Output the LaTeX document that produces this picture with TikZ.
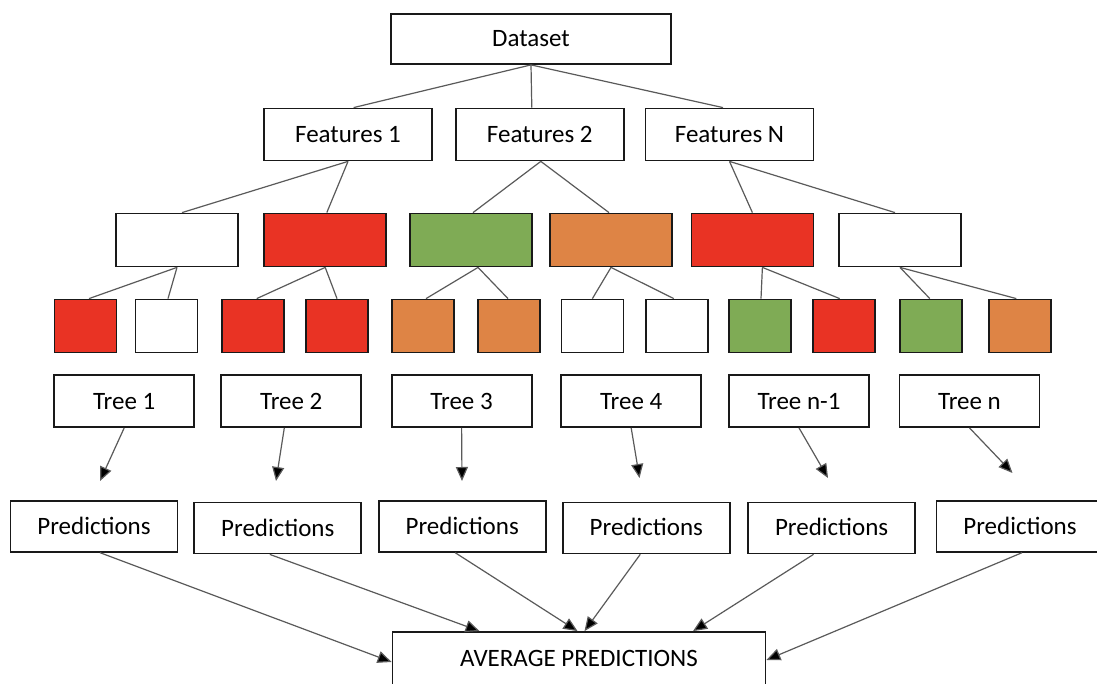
\documentclass[tikz,border=0pt]{standalone}
\usepackage{fontspec}
\setmainfont{Carlito}
\usetikzlibrary{arrows.meta}
\definecolor{boxred}{HTML}{E93324}
\definecolor{boxgreen}{HTML}{7FAB55}
\definecolor{boxorange}{HTML}{DE8445}
\definecolor{edge}{HTML}{5A5A5A}
\tikzset{
  box/.style={draw=black!90, line width=1.8pt, fill=white, inner sep=0pt,
    font=\fontsize{25}{30}\selectfont, text height=16pt, text depth=0pt},
  feat/.style={box, minimum width=168pt, minimum height=52pt},
  split/.style={box, minimum width=122pt, minimum height=53pt},
  leaf/.style={box, minimum width=62pt, minimum height=53pt},
  tree/.style={box, minimum width=140pt, minimum height=52pt},
  pred/.style={box, minimum width=167pt, minimum height=51pt},
  link/.style={draw=edge, line width=1.2pt},
  flow/.style={draw=edge, line width=1.2pt,
    -{Triangle[length=14pt,width=12pt,fill=black]}},
}
\begin{document}
\begin{tikzpicture}[x=1pt,y=-1pt]
\clip (0,0) rectangle (1097,684);
\fill[white] (0,0) rectangle (1097,684);

% top levels
\node[box, minimum width=280pt, minimum height=50pt] (data) at (531,39) {Dataset};
\node[feat] (f1) at (348,134.5) {Features 1};
\node[feat] (f2) at (539.8,134.5) {Features 2};
\node[feat] (fn) at (729.5,134.5) {Features N};

% first split
\node[split] (s1) at (177,240) {};
\node[split, fill=boxred] (s2) at (325.2,240) {};
\node[split, fill=boxgreen] (s3) at (471,240) {};
\node[split, fill=boxorange] (s4) at (611,240) {};
\node[split, fill=boxred] (s5) at (752.4,240) {};
\node[split] (s6) at (900,240) {};

% leaves
\node[leaf, fill=boxred] (l1) at (85.5,326) {};
\node[leaf] (l2) at (166.5,326) {};
\node[leaf, fill=boxred] (l3) at (252.7,326) {};
\node[leaf, fill=boxred] (l4) at (337,326) {};
\node[leaf, fill=boxorange] (l5) at (423,326) {};
\node[leaf, fill=boxorange] (l6) at (509,326) {};
\node[leaf] (l7) at (592.4,326) {};
\node[leaf] (l8) at (676.8,326) {};
\node[leaf, fill=boxgreen] (l9) at (760,326) {};
\node[leaf, fill=boxred] (l10) at (843.7,326) {};
\node[leaf, fill=boxgreen] (l11) at (930.8,326) {};
\node[leaf, fill=boxorange] (l12) at (1020.3,326) {};

% trees
\node[tree] (t1) at (124.2,401) {Tree 1};
\node[tree] (t2) at (291.3,401) {Tree 2};
\node[tree] (t3) at (461.6,401) {Tree 3};
\node[tree] (t4) at (631.2,401) {Tree 4};
\node[tree] (t5) at (799,401) {Tree n-1};
\node[tree] (t6) at (969.5,401) {Tree n};

% arrow ends below the trees
\coordinate (e1) at (100,481);
\coordinate (e2) at (276,481);
\coordinate (e3) at (462,481);
\coordinate (e4) at (639.5,478);
\coordinate (e5) at (828,478);
\coordinate (e6) at (1012.5,473);

% predictions
\node[pred] (p1) at (94,526.3) {Predictions};
\node[pred] (p2) at (277.8,528) {Predictions};
\node[pred] (p3) at (462.2,526.3) {Predictions};
\node[pred] (p4) at (646.3,527.9) {Predictions};
\node[pred] (p5) at (831.6,527.9) {Predictions};
\node[pred] (p6) at (1020,526.3) {Predictions};

% final box, its lower edge runs past the page
\node[box, minimum width=373pt, text height=34pt, text depth=34pt, inner ysep=0pt]
  (avg) at (579,666) {AVERAGE PREDICTIONS};

% dataset to features
\draw[link] (data.south) -- ([xshift=5.6pt]f1.north);
\draw[link] (data.south) -- ([xshift=-8pt]f2.north);
\draw[link] (data.south) -- ([xshift=-6.5pt]fn.north);

% features to first split
\draw[link] (f1.south) -- ([xshift=5pt]s1.north);
\draw[link] (f1.south) -- ([xshift=1.6pt]s2.north);
\draw[link] ([xshift=1pt]f2.south) -- ([xshift=2pt]s3.north);
\draw[link] ([xshift=1pt]f2.south) -- ([xshift=-2pt]s4.north);
\draw[link] (fn.south) -- (s5.north);
\draw[link] (fn.south) -- ([xshift=-5pt]s6.north);

% first split to leaves
\draw[link] (s1.south) -- ([xshift=3.5pt]l1.north);
\draw[link] (s1.south) -- ([xshift=1.5pt]l2.north);
\draw[link] (s2.south) -- ([xshift=4pt]l3.north);
\draw[link] (s2.south) -- (l4.north);
\draw[link] ([xshift=7pt]s3.south) -- ([xshift=3pt]l5.north);
\draw[link] ([xshift=7pt]s3.south) -- ([xshift=-1pt]l6.north);
\draw[link] (s4.south) -- (l7.north);
\draw[link] (s4.south) -- ([xshift=-3pt]l8.north);
\draw[link] ([xshift=10pt]s5.south) -- ([xshift=1pt]l9.north);
\draw[link] ([xshift=10pt]s5.south) -- ([xshift=-4pt]l10.north);
\draw[link] (s6.south) -- ([xshift=-1pt]l11.north);
\draw[link] (s6.south) -- ([xshift=-4pt]l12.north);

% trees to their outputs
\draw[flow] (t1.south) -- (e1);
\draw[flow] ([xshift=-7pt]t2.south) -- (e2);
\draw[flow] (t3.south) -- (e3);
\draw[flow] (t4.south) -- (e4);
\draw[flow] (t5.south) -- (e5);
\draw[flow] (t6.south) -- (e6);

% predictions to the average
\draw[flow] ([xshift=6pt]p1.south) -- ([yshift=4pt]avg.west);
\draw[flow] ([xshift=-8pt]p2.south) -- ([xshift=-99.5pt]avg.north);
\draw[flow] ([xshift=-7pt]p3.south) -- ([xshift=-1.5pt]avg.north);
\draw[flow] ([xshift=-6pt]p4.south) -- ([xshift=5.5pt]avg.north);
\draw[flow] ([xshift=-18pt]p5.south) -- ([xshift=114pt]avg.north);
\draw[flow] ([xshift=2pt]p6.south) -- ([yshift=6pt]avg.east);
\end{tikzpicture}
\end{document}
